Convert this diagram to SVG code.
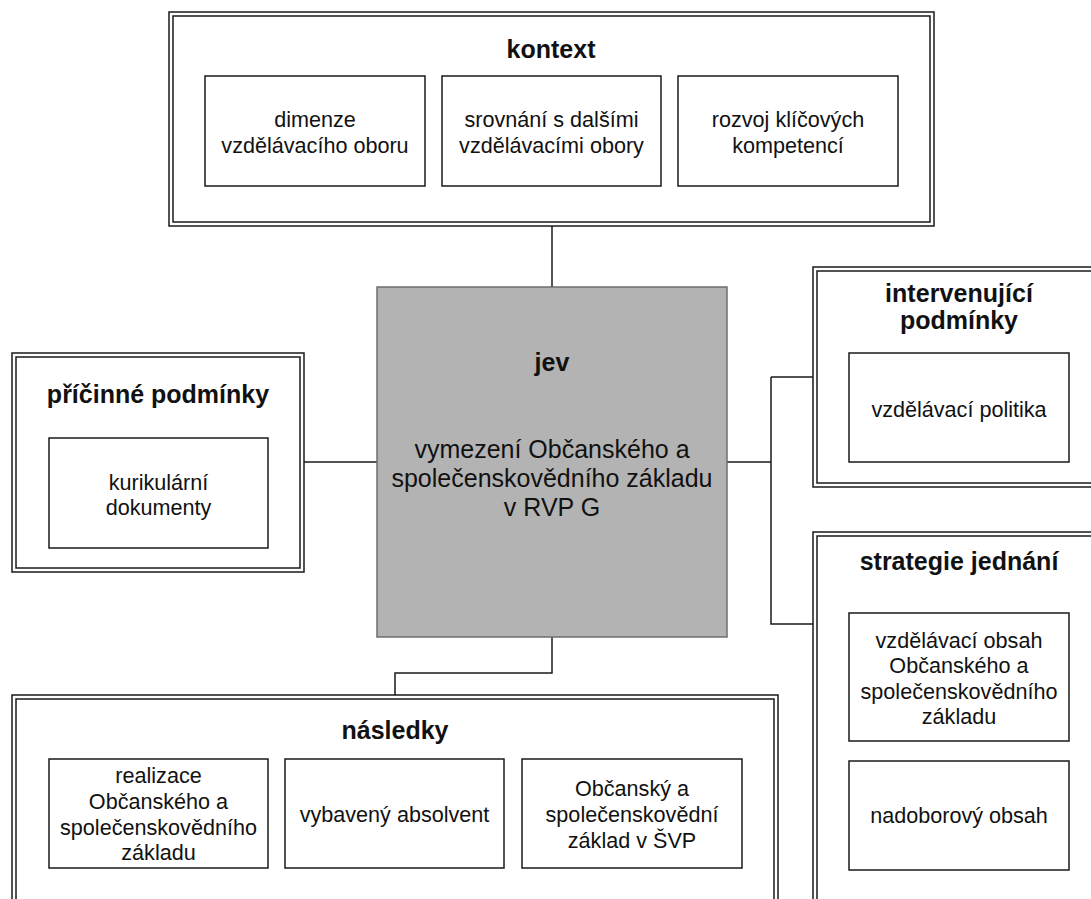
<svg xmlns="http://www.w3.org/2000/svg" width="1091" height="899" viewBox="0 0 1091 899">
<style>
.o{fill:#fff;stroke:#1a1a1a;stroke-width:1.5}
.i{fill:none;stroke:#1a1a1a;stroke-width:1.5}
.b{fill:#fff;stroke:#1a1a1a;stroke-width:1.5}
.c{fill:none;stroke:#1a1a1a;stroke-width:1.5}
.t{font-family:"Liberation Sans",Arial,sans-serif;font-size:25px;font-weight:bold;fill:#111;text-anchor:middle}
.s{font-family:"Liberation Sans",Arial,sans-serif;font-size:21.6px;fill:#111;text-anchor:middle}
.m{font-family:"Liberation Sans",Arial,sans-serif;font-size:25px;fill:#111;text-anchor:middle}
</style>
<rect width="1091" height="899" fill="#fff"/>
<g id="connectors">
<path class="c" d="M552 226V287"/>
<path class="c" d="M304 462H377"/>
<path class="c" d="M727 462H771M771 377H813M771 377V624H813"/>
<path class="c" d="M552 637V673H395V695"/>
</g>
<g id="kontext">
<rect class="o" x="169" y="12" width="765" height="214"/>
<rect class="i" x="173" y="16" width="757" height="206"/>
<text class="t" x="551" y="58">kontext</text>
<rect class="b" x="205" y="76" width="220" height="110"/>
<text class="s" x="315" y="127">dimenze</text>
<text class="s" x="315" y="153">vzdělávacího oboru</text>
<rect class="b" x="442" y="76" width="219" height="110"/>
<text class="s" x="551.5" y="127">srovnání s dalšími</text>
<text class="s" x="551.5" y="153">vzdělávacími obory</text>
<rect class="b" x="678" y="76" width="220" height="110"/>
<text class="s" x="788" y="127">rozvoj klíčových</text>
<text class="s" x="788" y="153">kompetencí</text>
</g>
<g id="pricinne">
<rect class="o" x="12" y="353" width="292" height="219"/>
<rect class="i" x="16" y="357" width="284" height="211"/>
<text class="t" x="158" y="403">příčinné podmínky</text>
<rect class="b" x="49" y="438" width="219" height="110"/>
<text class="s" x="158.5" y="490">kurikulární</text>
<text class="s" x="158.5" y="515">dokumenty</text>
</g>
<g id="jev">
<rect x="377" y="287" width="350" height="350" fill="#b3b3b3" stroke="#6e6e6e" stroke-width="1.5"/>
<text class="t" x="552" y="371">jev</text>
<text class="m" x="552" y="458">vymezení Občanského a</text>
<text class="m" x="552" y="487">společenskovědního základu</text>
<text class="m" x="552" y="516">v RVP G</text>
</g>
<g id="intervenujici">
<rect class="o" x="813" y="267" width="300" height="220"/>
<rect class="i" x="817" y="271" width="292" height="212"/>
<text class="t" x="959" y="302" font-size="24" textLength="148" lengthAdjust="spacing">intervenující</text>
<text class="t" x="959" y="329" font-size="24">podmínky</text>
<rect class="b" x="849" y="353" width="220" height="109"/>
<text class="s" x="959" y="417">vzdělávací politika</text>
</g>
<g id="strategie">
<rect class="o" x="813" y="532" width="300" height="420"/>
<rect class="i" x="817" y="536" width="292" height="412"/>
<text class="t" x="959" y="570">strategie jednání</text>
<rect class="b" x="849" y="613" width="220" height="128"/>
<text class="s" x="959" y="648">vzdělávací obsah</text>
<text class="s" x="959" y="673">Občanského a</text>
<text class="s" x="959" y="699">společenskovědního</text>
<text class="s" x="959" y="724">základu</text>
<rect class="b" x="849" y="761" width="220" height="109"/>
<text class="s" x="959" y="823">nadoborový obsah</text>
</g>
<g id="nasledky">
<rect class="o" x="12" y="695" width="766" height="260"/>
<rect class="i" x="16" y="699" width="758" height="252"/>
<text class="t" x="395" y="739">následky</text>
<rect class="b" x="49" y="759" width="219" height="109"/>
<text class="s" x="158.5" y="783">realizace</text>
<text class="s" x="158.5" y="809">Občanského a</text>
<text class="s" x="158.5" y="835">společenskovědního</text>
<text class="s" x="158.5" y="860">základu</text>
<rect class="b" x="285" y="759" width="219" height="109"/>
<text class="s" x="394.5" y="822">vybavený absolvent</text>
<rect class="b" x="522" y="759" width="220" height="109"/>
<text class="s" x="632" y="796">Občanský a</text>
<text class="s" x="632" y="822">společenskovědní</text>
<text class="s" x="632" y="848">základ v ŠVP</text>
</g>
</svg>
